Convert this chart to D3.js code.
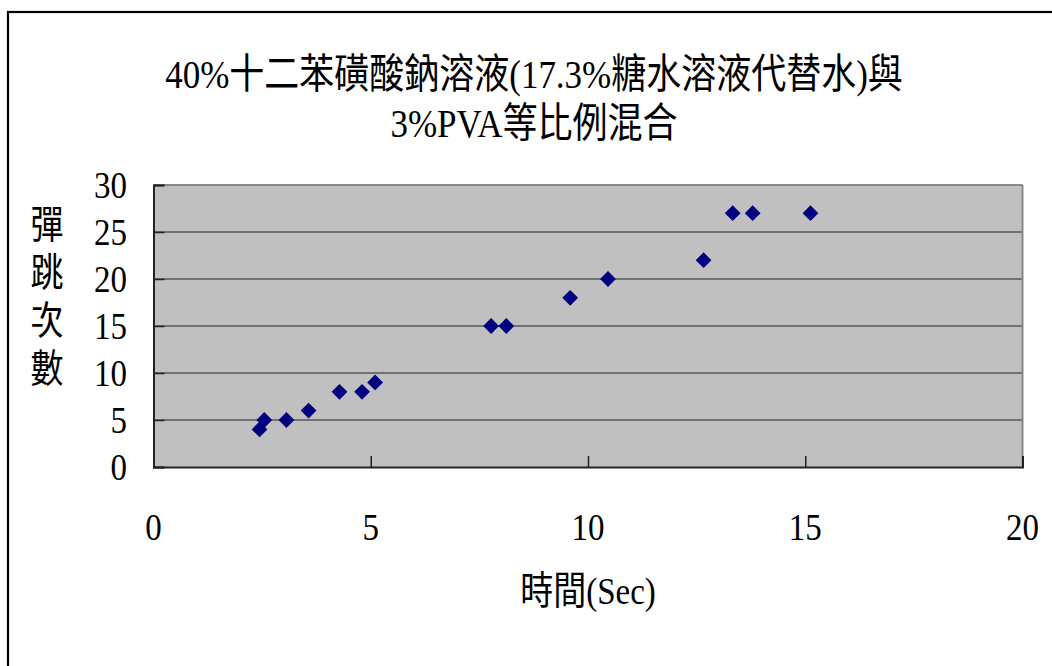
<!DOCTYPE html>
<html>
<head>
<meta charset="utf-8">
<script src="https://cdn.jsdelivr.net/npm/d3@7"></script>
<style>
  html, body { margin: 0; padding: 0; background: #fff; overflow: hidden; }
  text { font-family: "Liberation Serif", "Noto Sans CJK TC", serif; fill: #000; }
</style>
</head>
<body>
<svg id="chart" width="1052" height="666"></svg>
<script>
const titleLines = ["40%十二苯磺酸鈉溶液(17.3%糖水溶液代替水)與", "3%PVA等比例混合"];
const xTitle = "時間(Sec)";
const yTitleChars = ["彈", "跳", "次", "數"];
const times = [2.44, 2.55, 3.06, 3.57, 4.28, 4.80, 5.10, 7.77, 8.12, 9.59, 10.46, 12.66, 13.33, 13.79, 15.12];
const bounces = [4, 5, 5, 6, 8, 8, 9, 15, 15, 18, 20, 22, 27, 27, 27];
const xTicks = [0, 5, 10, 15, 20];
const yTicks = [0, 5, 10, 15, 20, 25, 30];

const svg = d3.select("#chart");
const L = 153.5, R = 1022.5, T = 185, B = 467;
const x = d3.scaleLinear().domain([0, 20]).range([L, R]);
const y = d3.scaleLinear().domain([0, 30]).range([B, T]);
const SY = 1.17; // vertical stretch of the text, as in the reference

function place(sel, fx, fy) {
  return sel.attr("transform", (d, i) => `translate(${fx(d, i)},${fy(d, i)}) scale(1,${SY})`);
}

// outer chart border (extends beyond window at right/bottom)
svg.append("rect").attr("x", 8).attr("y", 12).attr("width", 1100).attr("height", 700)
  .attr("fill", "#fff").attr("stroke", "#000").attr("stroke-width", 2.2);

// plot background
svg.append("rect").attr("x", L).attr("y", T).attr("width", R - L).attr("height", B - T)
  .attr("fill", "#c0c0c0");

// gridlines
svg.append("g").selectAll("line").data(yTicks.filter(d => d > 0 && d < 30)).join("line")
  .attr("x1", L).attr("x2", R).attr("y1", d => y(d)).attr("y2", d => y(d))
  .attr("stroke", "#222").attr("stroke-width", 1);

// plot border: top/right gray, left/bottom black
svg.append("line").attr("x1", L).attr("x2", R).attr("y1", T).attr("y2", T).attr("stroke", "#888").attr("stroke-width", 2);
svg.append("line").attr("x1", R).attr("x2", R).attr("y1", T).attr("y2", B).attr("stroke", "#888").attr("stroke-width", 2);

// axes with inner ticks
const xAxis = d3.axisBottom(x).tickValues(xTicks).tickSize(-11).tickFormat("");
const yAxis = d3.axisLeft(y).tickValues(yTicks).tickSize(-11).tickFormat("");
const gx = svg.append("g").attr("transform", `translate(0,${B})`).call(xAxis);
const gy = svg.append("g").attr("transform", `translate(${L},0)`).call(yAxis);
[gx, gy].forEach(g => {
  g.select(".domain").attr("stroke", "#222").attr("stroke-width", 2);
  g.selectAll(".tick line").attr("stroke", "#222").attr("stroke-width", 1.5);
});

// tick labels
place(svg.append("g").selectAll("text").data(xTicks).join("text")
  .attr("text-anchor", "middle").attr("font-size", 33).text(d => d),
  d => x(d), () => 540);
place(svg.append("g").selectAll("text").data(yTicks).join("text")
  .attr("text-anchor", "end").attr("font-size", 33).text(d => d),
  () => 127, d => y(d) + 13);

// points
svg.append("g").selectAll("path").data(times.map((t, i) => [t, bounces[i]])).join("path")
  .attr("d", d3.symbol(d3.symbolSquare, 125))
  .attr("transform", d => `translate(${x(d[0])},${y(d[1])}) rotate(45)`)
  .attr("fill", "#000080");

// title
place(svg.append("g").selectAll("text").data(titleLines).join("text")
  .attr("text-anchor", "middle").attr("font-size", 35).text(d => d),
  () => 534, (d, i) => 88 + i * 49);

// x title
place(svg.append("g").selectAll("text").data([xTitle]).join("text")
  .attr("text-anchor", "middle").attr("font-size", 33).text(d => d),
  () => 588, () => 604);

// y title (stacked)
place(svg.append("g").selectAll("text").data(yTitleChars).join("text")
  .attr("text-anchor", "middle").attr("font-size", 33).text(d => d),
  () => 47, (d, i) => 238 + i * 48);
</script>
</body>
</html>
